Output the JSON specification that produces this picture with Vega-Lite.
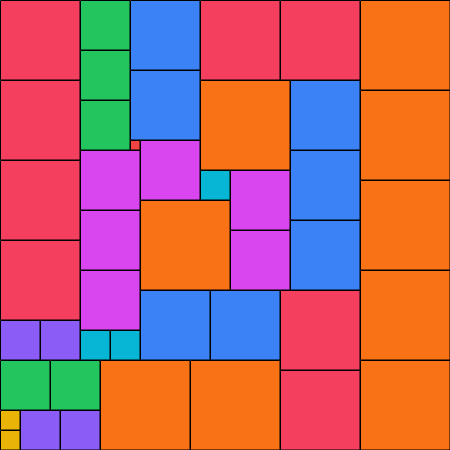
{
  "$schema": "https://vega.github.io/schema/vega-lite/v6.json",
  "width": 450,
  "height": 450,
  "padding": 0,
  "autosize": {"type": "none"},
  "background": "white",
  "config": {"view": {"stroke": null}},
  "data": {"values": [
    {"x0": 0, "y0": 0, "x1": 80, "y1": 80, "g": "rose"},
    {"x0": 0, "y0": 80, "x1": 80, "y1": 160, "g": "rose"},
    {"x0": 0, "y0": 160, "x1": 80, "y1": 240, "g": "rose"},
    {"x0": 0, "y0": 240, "x1": 80, "y1": 320, "g": "rose"},
    {"x0": 0, "y0": 320, "x1": 40, "y1": 360, "g": "violet"},
    {"x0": 40, "y0": 320, "x1": 80, "y1": 360, "g": "violet"},
    {"x0": 0, "y0": 360, "x1": 50, "y1": 410, "g": "green"},
    {"x0": 50, "y0": 360, "x1": 100, "y1": 410, "g": "green"},
    {"x0": 0, "y0": 410, "x1": 20, "y1": 430, "g": "yellow"},
    {"x0": 0, "y0": 430, "x1": 20, "y1": 450, "g": "yellow"},
    {"x0": 20, "y0": 410, "x1": 60, "y1": 450, "g": "violet"},
    {"x0": 60, "y0": 410, "x1": 100, "y1": 450, "g": "violet"},
    {"x0": 80, "y0": 0, "x1": 130, "y1": 50, "g": "green"},
    {"x0": 80, "y0": 50, "x1": 130, "y1": 100, "g": "green"},
    {"x0": 80, "y0": 100, "x1": 130, "y1": 150, "g": "green"},
    {"x0": 80, "y0": 150, "x1": 140, "y1": 210, "g": "fuchsia"},
    {"x0": 80, "y0": 210, "x1": 140, "y1": 270, "g": "fuchsia"},
    {"x0": 80, "y0": 270, "x1": 140, "y1": 330, "g": "fuchsia"},
    {"x0": 80, "y0": 330, "x1": 110, "y1": 360, "g": "cyan"},
    {"x0": 110, "y0": 330, "x1": 140, "y1": 360, "g": "cyan"},
    {"x0": 130, "y0": 0, "x1": 200, "y1": 70, "g": "blue"},
    {"x0": 130, "y0": 70, "x1": 200, "y1": 140, "g": "blue"},
    {"x0": 130, "y0": 140, "x1": 140, "y1": 150, "g": "red"},
    {"x0": 140, "y0": 140, "x1": 200, "y1": 200, "g": "fuchsia"},
    {"x0": 140, "y0": 200, "x1": 230, "y1": 290, "g": "orange"},
    {"x0": 200, "y0": 170, "x1": 230, "y1": 200, "g": "cyan"},
    {"x0": 230, "y0": 170, "x1": 290, "y1": 230, "g": "fuchsia"},
    {"x0": 230, "y0": 230, "x1": 290, "y1": 290, "g": "fuchsia"},
    {"x0": 200, "y0": 80, "x1": 290, "y1": 170, "g": "orange"},
    {"x0": 200, "y0": 0, "x1": 280, "y1": 80, "g": "rose"},
    {"x0": 280, "y0": 0, "x1": 360, "y1": 80, "g": "rose"},
    {"x0": 290, "y0": 80, "x1": 360, "y1": 150, "g": "blue"},
    {"x0": 290, "y0": 150, "x1": 360, "y1": 220, "g": "blue"},
    {"x0": 290, "y0": 220, "x1": 360, "y1": 290, "g": "blue"},
    {"x0": 140, "y0": 290, "x1": 210, "y1": 360, "g": "blue"},
    {"x0": 210, "y0": 290, "x1": 280, "y1": 360, "g": "blue"},
    {"x0": 280, "y0": 290, "x1": 360, "y1": 370, "g": "rose"},
    {"x0": 280, "y0": 370, "x1": 360, "y1": 450, "g": "rose"},
    {"x0": 100, "y0": 360, "x1": 190, "y1": 450, "g": "orange"},
    {"x0": 190, "y0": 360, "x1": 280, "y1": 450, "g": "orange"},
    {"x0": 360, "y0": 0, "x1": 450, "y1": 90, "g": "orange"},
    {"x0": 360, "y0": 90, "x1": 450, "y1": 180, "g": "orange"},
    {"x0": 360, "y0": 180, "x1": 450, "y1": 270, "g": "orange"},
    {"x0": 360, "y0": 270, "x1": 450, "y1": 360, "g": "orange"},
    {"x0": 360, "y0": 360, "x1": 450, "y1": 450, "g": "orange"}
  ]},
  "mark": {"type": "rect", "stroke": "black", "strokeWidth": 1, "opacity": 1, "xOffset": 0.5, "yOffset": 0.5},
  "encoding": {
    "x": {"field": "x0", "type": "quantitative", "scale": {"domain": [0, 450], "nice": false, "zero": false}, "axis": null},
    "x2": {"field": "x1"},
    "y": {"field": "y0", "type": "quantitative", "scale": {"domain": [0, 450], "nice": false, "zero": false, "reverse": true}, "axis": null},
    "y2": {"field": "y1"},
    "color": {"field": "g", "type": "nominal", "legend": null, "scale": {
      "domain": ["rose", "green", "blue", "orange", "fuchsia", "cyan", "violet", "yellow", "red"],
      "range": ["#f43f5e", "#22c55e", "#3b82f6", "#f97316", "#d946ef", "#06b6d4", "#8b5cf6", "#eab308", "#ef4444"]
    }}
  }
}
